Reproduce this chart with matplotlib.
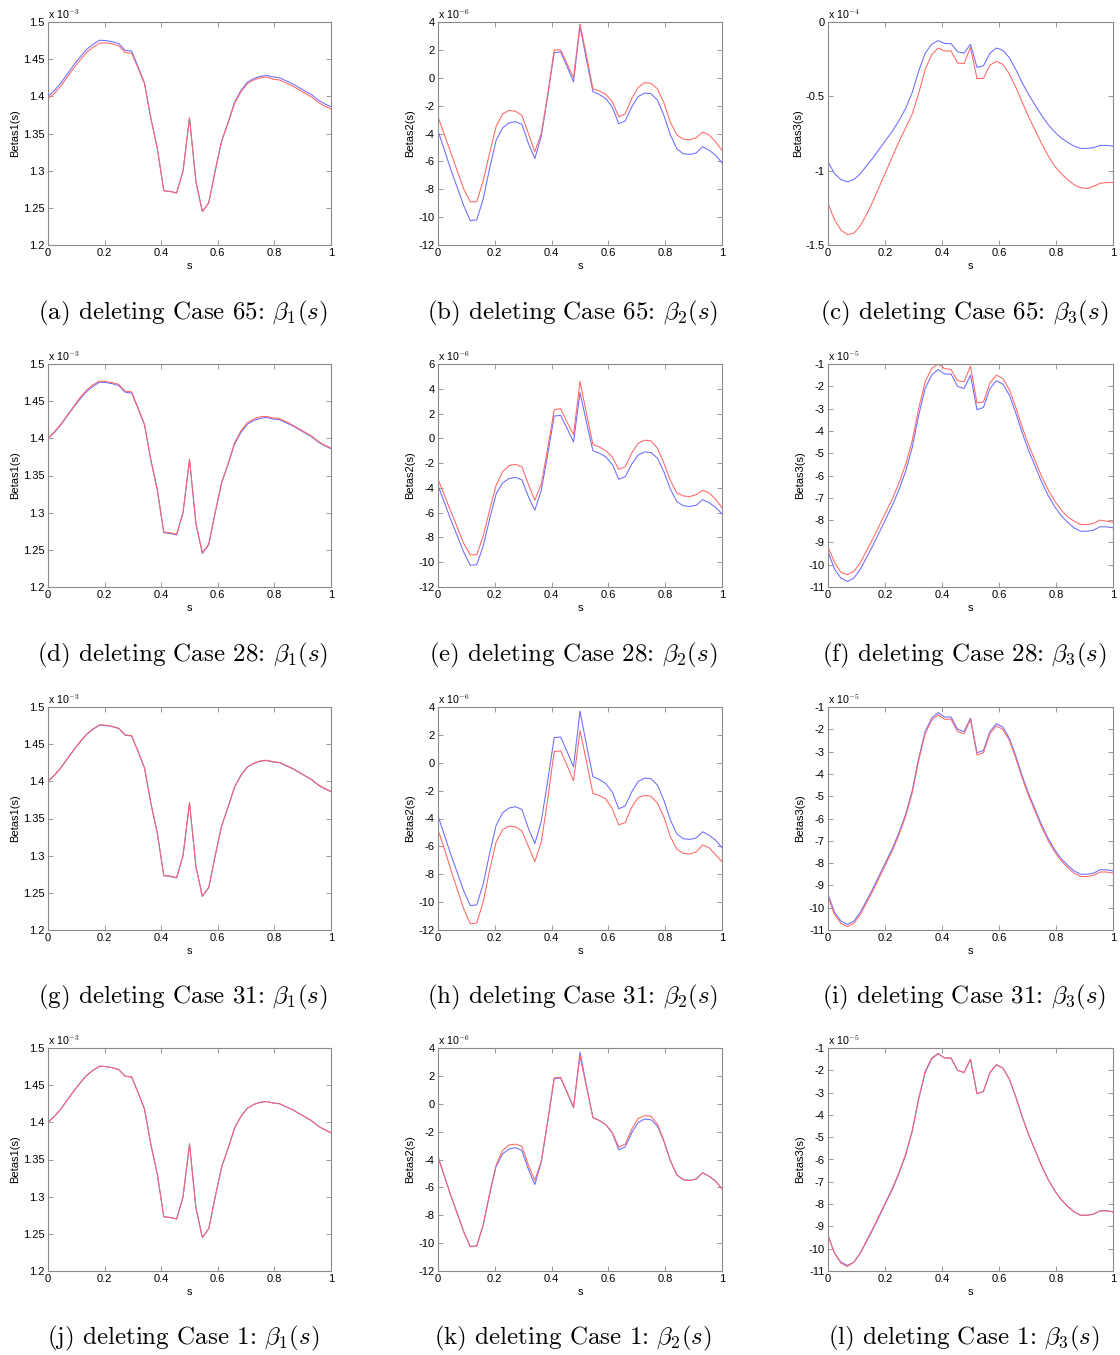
import numpy as np
import matplotlib
matplotlib.use('Agg')
import matplotlib.pyplot as plt

plt.rcParams['mathtext.fontset'] = 'cm'

# grid of s (45 equally spaced evaluation points)
s = np.linspace(0, 1, 45)

# ---- beta1 (x 1e-3) ----
b1_full = [1.400,1.408,1.418,1.430,1.442,1.453,1.463,1.470,1.4755,1.475,1.4735,1.471,1.462,1.461,1.440,
           1.418,1.370,1.330,1.273,1.272,1.270,1.300,1.371,1.285,1.245,1.257,1.300,1.340,1.365,1.392,
           1.408,1.419,1.424,1.427,1.428,1.426,1.425,1.421,1.417,1.412,1.407,1.402,1.395,1.390,1.386]
b1_del65 = [1.397,1.404,1.414,1.426,1.438,1.449,1.459,1.466,1.4715,1.472,1.4705,1.468,1.459,1.458,1.438,
            1.417,1.370,1.330,1.273,1.272,1.270,1.300,1.371,1.285,1.245,1.257,1.300,1.340,1.364,1.390,
            1.406,1.417,1.422,1.425,1.426,1.423,1.422,1.418,1.414,1.409,1.404,1.399,1.392,1.387,1.383]
b1_del28 = [1.400,1.409,1.419,1.431,1.443,1.455,1.465,1.472,1.477,1.4765,1.475,1.4725,1.4635,1.4625,1.441,
            1.419,1.371,1.331,1.274,1.273,1.271,1.301,1.372,1.286,1.246,1.258,1.301,1.341,1.366,1.394,
            1.410,1.421,1.426,1.429,1.4295,1.4275,1.4265,1.4225,1.418,1.413,1.408,1.403,1.396,1.391,1.387]
b1_del31 = [1.4005,1.4085,1.4185,1.4305,1.4425,1.4535,1.4635,1.4705,1.476,1.4755,1.474,1.4715,1.4625,1.4615,1.4405,
            1.4185,1.3705,1.3305,1.2735,1.2725,1.2705,1.3005,1.3715,1.2855,1.2455,1.2575,1.3005,1.3405,1.3655,1.3925,
            1.4085,1.4195,1.4245,1.4275,1.4285,1.4265,1.4255,1.4215,1.4175,1.4125,1.4075,1.4025,1.3955,1.3905,1.3865]
b1_del1 = [1.400,1.408,1.418,1.430,1.442,1.453,1.463,1.470,1.4755,1.475,1.4735,1.471,1.462,1.461,1.440,
           1.418,1.370,1.330,1.273,1.272,1.270,1.300,1.371,1.285,1.245,1.257,1.300,1.340,1.365,1.392,
           1.408,1.419,1.424,1.427,1.428,1.426,1.425,1.421,1.417,1.412,1.407,1.402,1.395,1.390,1.386]

# ---- beta2 (x 1e-6) ----
b2_full = [-3.8,-5.2,-6.6,-7.9,-9.2,-10.25,-10.2,-8.7,-6.5,-4.5,-3.6,-3.25,-3.15,-3.35,-4.7,
           -5.8,-4.2,-1.3,1.8,1.85,0.8,-0.3,3.7,1.3,-1.0,-1.2,-1.5,-2.1,-3.3,-3.1,
           -2.1,-1.35,-1.1,-1.15,-1.6,-2.7,-4.1,-5.1,-5.45,-5.5,-5.4,-4.95,-5.2,-5.55,-6.1]
b2_del65 = [-2.8,-4.1,-5.4,-6.7,-8.0,-8.9,-8.9,-7.4,-5.4,-3.5,-2.6,-2.35,-2.4,-2.7,-4.0,
            -5.3,-4.0,-1.2,2.0,2.0,1.0,0.0,3.85,1.6,-0.8,-0.95,-1.2,-1.7,-2.8,-2.6,
            -1.5,-0.7,-0.35,-0.4,-0.8,-1.8,-3.2,-4.1,-4.4,-4.45,-4.3,-3.9,-4.1,-4.6,-5.2]
b2_del28 = [-3.3,-4.6,-5.9,-7.2,-8.5,-9.4,-9.4,-7.9,-5.8,-3.8,-2.7,-2.2,-2.1,-2.3,-3.7,
            -5.0,-3.7,-0.8,2.3,2.4,1.3,0.3,4.6,2.0,-0.5,-0.7,-1.0,-1.5,-2.5,-2.3,
            -1.2,-0.4,-0.15,-0.2,-0.8,-2.0,-3.4,-4.4,-4.65,-4.7,-4.55,-4.2,-4.4,-4.9,-5.6]
b2_del31 = [-4.8,-6.2,-7.7,-9.1,-10.5,-11.55,-11.5,-10.0,-7.7,-5.7,-4.8,-4.55,-4.6,-4.9,-6.0,
            -7.1,-5.7,-2.6,0.8,0.85,-0.2,-1.3,2.3,0.1,-2.2,-2.35,-2.6,-3.3,-4.45,-4.3,
            -3.2,-2.5,-2.35,-2.4,-2.9,-3.9,-5.3,-6.2,-6.5,-6.55,-6.4,-5.9,-6.1,-6.6,-7.1]
b2_del1 = [-3.8,-5.2,-6.6,-7.9,-9.2,-10.25,-10.2,-8.7,-6.4,-4.4,-3.35,-2.95,-2.9,-3.05,-4.4,
           -5.5,-4.1,-1.2,1.85,1.9,0.85,-0.25,3.4,1.2,-1.0,-1.2,-1.5,-2.05,-3.1,-2.9,
           -1.85,-1.05,-0.85,-0.9,-1.45,-2.65,-4.05,-5.1,-5.45,-5.5,-5.4,-4.95,-5.2,-5.55,-6.1]

# ---- beta3 (x 1e-5) ----
b3_full = [-9.4,-10.2,-10.6,-10.75,-10.6,-10.2,-9.65,-9.1,-8.5,-7.9,-7.3,-6.6,-5.8,-4.75,-3.3,
           -2.1,-1.5,-1.25,-1.45,-1.45,-2.0,-2.1,-1.5,-3.05,-2.95,-2.1,-1.75,-1.9,-2.4,-3.2,
           -4.1,-4.9,-5.6,-6.3,-6.9,-7.4,-7.8,-8.1,-8.35,-8.5,-8.5,-8.45,-8.3,-8.3,-8.35]
b3_del65 = [-12.2,-13.3,-14.0,-14.3,-14.2,-13.7,-12.9,-12.0,-11.0,-10.0,-9.0,-8.0,-7.1,-6.2,-4.8,
            -3.2,-2.2,-1.75,-1.95,-1.95,-2.75,-2.8,-1.7,-3.8,-3.8,-2.9,-2.65,-2.85,-3.5,-4.4,
            -5.4,-6.4,-7.3,-8.2,-9.0,-9.7,-10.2,-10.6,-10.95,-11.15,-11.2,-11.05,-10.85,-10.8,-10.8]
b3_del28 = [-9.2,-9.9,-10.35,-10.45,-10.3,-9.9,-9.35,-8.8,-8.2,-7.6,-7.0,-6.3,-5.5,-4.45,-3.0,
            -1.8,-1.2,-1.0,-1.2,-1.25,-1.75,-1.8,-1.1,-2.75,-2.7,-1.85,-1.5,-1.65,-2.15,-2.95,
            -3.85,-4.65,-5.35,-6.05,-6.65,-7.15,-7.55,-7.85,-8.05,-8.2,-8.2,-8.15,-8.0,-8.05,-8.1]
b3_del31 = [-9.5,-10.3,-10.7,-10.85,-10.7,-10.3,-9.75,-9.2,-8.6,-8.0,-7.4,-6.7,-5.9,-4.85,-3.4,
            -2.2,-1.6,-1.35,-1.55,-1.55,-2.1,-2.2,-1.55,-3.15,-3.05,-2.2,-1.85,-2.0,-2.5,-3.3,
            -4.2,-5.0,-5.7,-6.4,-7.0,-7.5,-7.9,-8.2,-8.45,-8.6,-8.6,-8.55,-8.4,-8.4,-8.45]
b3_del1 = [-9.4,-10.2,-10.65,-10.8,-10.6,-10.2,-9.6,-9.05,-8.45,-7.85,-7.25,-6.55,-5.75,-4.7,-3.25,
           -2.05,-1.45,-1.25,-1.45,-1.45,-2.0,-2.1,-1.5,-3.05,-2.95,-2.1,-1.75,-1.9,-2.4,-3.2,
           -4.1,-4.9,-5.6,-6.3,-6.9,-7.4,-7.8,-8.1,-8.35,-8.5,-8.5,-8.45,-8.3,-8.3,-8.35]

cases = ['65', '28', '31', '1']
letters = list('abcdefghijkl')
xticks = [0, 0.2, 0.4, 0.6, 0.8, 1]
xticklabels = ['0', '0.2', '0.4', '0.6', '0.8', '1']

b1_yticks = [1.2, 1.25, 1.3, 1.35, 1.4, 1.45, 1.5]
b1_ylabels = ['1.2', '1.25', '1.3', '1.35', '1.4', '1.45', '1.5']
b2_yticks_a = [-12, -10, -8, -6, -4, -2, 0, 2, 4]
b2_yticks_b = [-12, -10, -8, -6, -4, -2, 0, 2, 4, 6]
b3_yticks_a = [-1.5, -1, -0.5, 0]
b3_ylabels_a = ['-1.5', '-1', '-0.5', '0']
b3_yticks_b = list(range(-11, 0))

def lab(vals):
    return ['%g' % v for v in vals]

b1_red = [b1_del65, b1_del28, b1_del31, b1_del1]
b2_red = [b2_del65, b2_del28, b2_del31, b2_del1]
b3_red = [b3_del65, b3_del28, b3_del31, b3_del1]

W, H = 1120, 1355
fig = plt.figure(figsize=(W / 100, H / 100), dpi=100)
cols_left = [48, 438, 828]
cols_w = [283, 284, 285]
rows_top = [22, 364, 707, 1048]
ax_h = 223
cap_y = [313, 655, 997, 1338]
cap_x = [183, 573, 964]

blue = (0.42, 0.42, 1.0)
red = (1.0, 0.40, 0.40)
frame = '#8a8a8a'
tfont = 'Liberation Sans'
tsize = 8.0

for r in range(4):
    for c in range(3):
        ax = fig.add_axes([cols_left[c] / W, 1 - (rows_top[r] + ax_h) / H,
                           cols_w[c] / W, ax_h / H])
        if c == 0:
            yb, yr = np.array(b1_full), np.array(b1_red[r])
            ylim = (1.2, 1.5); yt = b1_yticks; yl = b1_ylabels
            expo = '-3'; ylab = 'Betas1(s)'
        elif c == 1:
            yb, yr = np.array(b2_full), np.array(b2_red[r])
            if r == 1:
                ylim = (-12, 6); yt = b2_yticks_b
            else:
                ylim = (-12, 4); yt = b2_yticks_a
            yl = lab(yt); expo = '-6'; ylab = 'Betas2(s)'
        else:
            yb, yr = np.array(b3_full), np.array(b3_red[r])
            if r == 0:
                yb = yb / 10.0; yr = yr / 10.0
                ylim = (-1.5, 0); yt = b3_yticks_a; yl = b3_ylabels_a; expo = '-4'
            else:
                ylim = (-11, -1); yt = b3_yticks_b; yl = lab(yt); expo = '-5'
            ylab = 'Betas3(s)'
        ax.plot(s, yb, color=blue, lw=0.75)
        ax.plot(s, yr, color=red, lw=0.75)
        ax.set_xlim(0, 1)
        ax.set_ylim(*ylim)
        ax.set_xticks(xticks)
        ax.set_xticklabels(xticklabels, fontfamily=tfont, fontsize=tsize)
        ax.set_yticks(yt)
        ax.set_yticklabels(yl, fontfamily=tfont, fontsize=tsize)
        ax.tick_params(direction='in', length=3.5, width=0.6, color=frame,
                       top=True, right=True, pad=2.5)
        for sp in ax.spines.values():
            sp.set_color(frame)
            sp.set_linewidth(0.8)
        ax.set_xlabel('s', fontfamily=tfont, fontsize=tsize, labelpad=2)
        ax.set_ylabel(ylab, fontfamily=tfont, fontsize=tsize, labelpad=2)
        ax.text(0.0, 1.005, r'x 10$^{' + expo + '}$', transform=ax.transAxes,
                fontfamily=tfont, fontsize=tsize - 0.3, ha='left', va='bottom')
        idx = r * 3 + c
        sub = str(c + 1)
        cap = '(' + letters[idx] + ') deleting Case ' + cases[r] + r': $\beta_' + sub + '(s)$'
        fig.text(cap_x[c] / W, 1 - cap_y[r] / H, cap, fontfamily='cmr10',
                 fontsize=18, ha='center', va='center')

fig.savefig('out.png', dpi=100)
